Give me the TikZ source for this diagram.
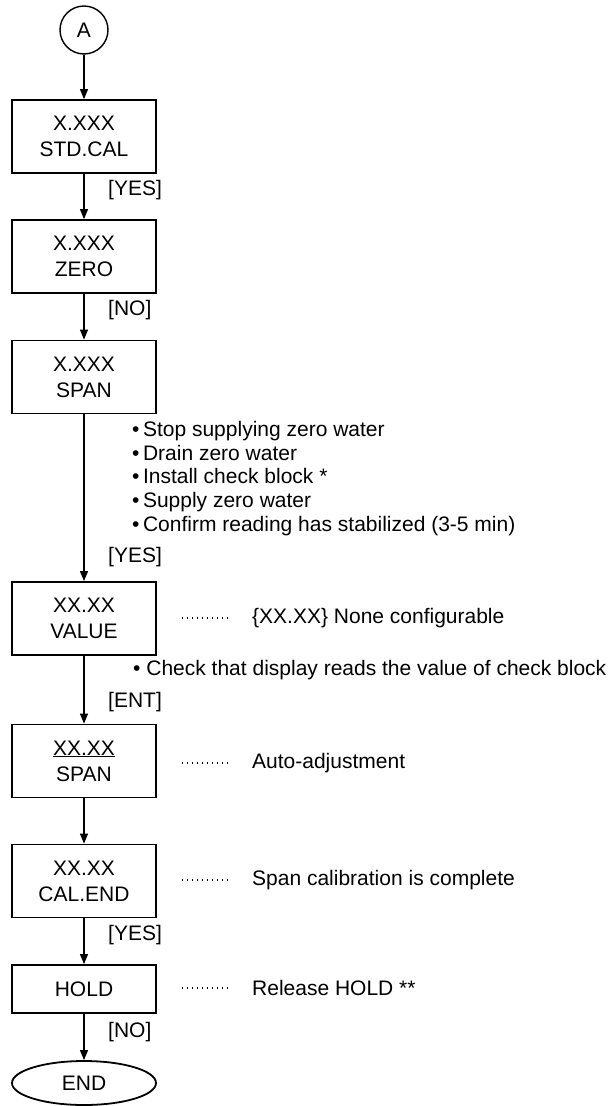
\documentclass[tikz,border=0pt]{standalone}
\usepackage{fontspec}
\setmainfont{Liberation Sans}
\usetikzlibrary{arrows.meta,shapes.geometric,calc}
\begin{document}
\begin{tikzpicture}[x=1pt,y=-1pt,
  every node/.style={font=\fontsize{21}{26}\selectfont,inner sep=0pt},
  box/.style={draw,line width=1.8pt,minimum width=144pt,minimum height=73pt,align=center},
  shortbox/.style={box,minimum height=48pt},
  flow/.style={line width=1.1pt,-{Triangle[length=10pt,width=8pt]}},
  lbl/.style={anchor=west},
  note/.style={anchor=west},
  leader/.style={line width=1.4pt,dash pattern=on 1.2pt off 3.8pt},
  steps/.style={anchor=north west,align=left,font=\fontsize{21}{23.7}\selectfont}
]
\useasboundingbox (0,0) rectangle (615,1106);

% connector circle and boxes
\node[draw,circle,line width=1.4pt,minimum size=48pt] (a) at (84,30) {A};
\node[box] (std) at (84,136.5) {X.XXX\\STD.CAL};
\node[box] (zero) at (84,256.5) {X.XXX\\ZERO};
\node[box] (span) at (84,377) {X.XXX\\SPAN};
\node[box] (value) at (84,618.5) {XX.XX\\VALUE};
\node[box] (auto) at (84,761) {\underline{XX.XX}\\SPAN};
\node[box] (calend) at (84,881) {XX.XX\\CAL.END};
\node[shortbox] (hold) at (84,989) {HOLD};
\node[draw,ellipse,line width=1.8pt,minimum width=144pt,minimum height=44pt] (end) at (84,1083) {END};

% flow arrows
\draw[flow] (a) -- (std);
\draw[flow] (std) -- (zero);
\draw[flow] (zero) -- (span);
\draw[flow] (span) -- (value);
\draw[flow] (value) -- (auto);
\draw[flow] (auto) -- (calend);
\draw[flow] (calend) -- (hold);
\draw[flow] (hold) -- (end);

% key labels
\node[lbl] (k1) at (108,190) {[YES]};
\node[lbl] (k2) at (108,310) {[NO]};
\node[lbl] (k3) at (108,557) {[YES]};
\node[lbl] (k4) at (108,702) {[ENT]};
\node[lbl] (k5) at (108,935) {[YES]};
\node[lbl] (k6) at (108,1032) {[NO]};

% operator steps
\node[steps] (ops) at (132,421) {%
\textbullet\,Stop supplying zero water\\
\textbullet\,Drain zero water\\
\textbullet\,Install check block *\\
\textbullet\,Supply zero water\\
\textbullet\,Confirm reading has stabilized (3-5 min)};
\node[lbl] (chk) at (133,670) {\textbullet\ Check that display reads the value of check block};

% display notes
\node[note] (n1) at (252,618) {\{XX.XX\} None configurable};
\node[note] (n2) at (252,763) {Auto-adjustment};
\node[note] (n3) at (252,880) {Span calibration is complete};
\node[note] (n4) at (252,988) {Release HOLD **};

\draw[leader] ($(value.east |- n1.west)+(25,0)$) -- ($(n1.west)+(-25,0)$);
\draw[leader] ($(auto.east |- n2.west)+(25,0)$) -- ($(n2.west)+(-25,0)$);
\draw[leader] ($(calend.east |- n3.west)+(25,0)$) -- ($(n3.west)+(-25,0)$);
\draw[leader] ($(hold.east |- n4.west)+(25,0)$) -- ($(n4.west)+(-25,0)$);
\end{tikzpicture}
\end{document}
